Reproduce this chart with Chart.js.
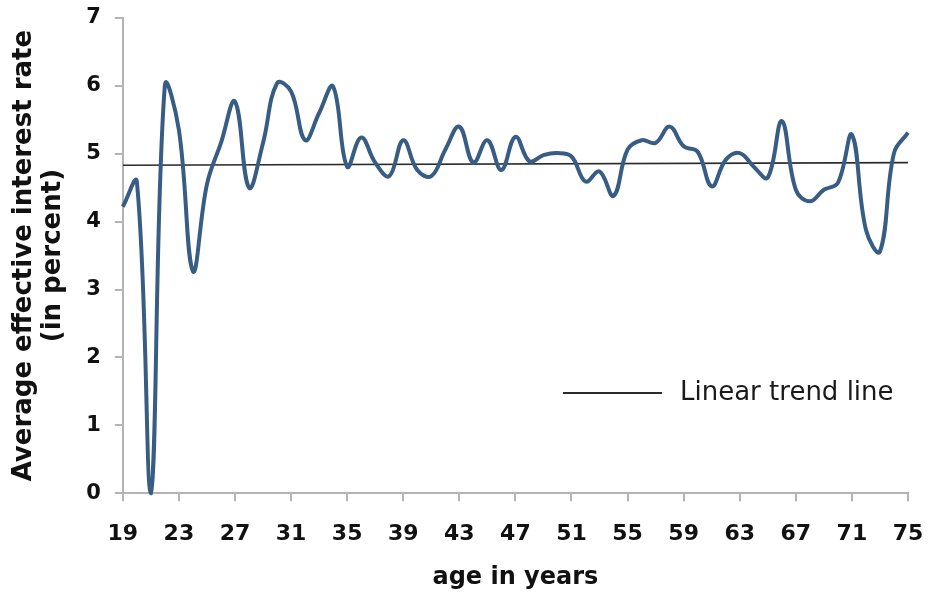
<!DOCTYPE html>
<html>
<head>
<meta charset="utf-8">
<title>Average effective interest rate by age</title>
<script src="https://cdn.jsdelivr.net/npm/chart.js@4.4.1/dist/chart.umd.min.js"></script>
<style>
    body { margin: 0; background: #fff; }
    #wrap { width: 929px; height: 595px; position: relative; }
</style>
</head>
<body>
<div id="wrap">
    <canvas id="rateChart"></canvas>
</div>
<script>
    // age in years (x) and average effective interest rate in percent (y)
    var ages = [19, 20, 21, 22, 23, 24, 25, 26, 27, 28, 29, 30, 31, 32, 33, 34, 35, 36, 37,
                38, 39, 40, 41, 42, 43, 44, 45, 46, 47, 48, 49, 50, 51, 52, 53, 54, 55, 56,
                57, 58, 59, 60, 61, 62, 63, 64, 65, 66, 67, 68, 69, 70, 71, 72, 73, 74, 75];
    var rates = [4.22, 4.59, 0.00, 6.01, 5.35, 3.27, 4.55, 5.16, 5.77, 4.50, 5.16, 6.04, 5.92,
                 5.20, 5.60, 5.99, 4.81, 5.24, 4.87, 4.67, 5.20, 4.76, 4.67, 5.06, 5.40, 4.87,
                 5.20, 4.76, 5.25, 4.89, 4.98, 5.01, 4.96, 4.59, 4.74, 4.38, 5.06, 5.20, 5.16,
                 5.40, 5.11, 5.03, 4.52, 4.91, 5.01, 4.81, 4.65, 5.48, 4.47, 4.30, 4.47, 4.57,
                 5.28, 3.88, 3.56, 5.01, 5.31];

    // linear trend line, read at its two ends
    var trendAges = [19, 75];
    var trendRates = [4.83, 4.87];

    var xTicks = [19, 23, 27, 31, 35, 39, 43, 47, 51, 55, 59, 63, 67, 71, 75];
    var yTicks = [0, 1, 2, 3, 4, 5, 6, 7];

    var ratePoints = ages.map(function (a, i) { return { x: a, y: rates[i] }; });
    var trendPoints = trendAges.map(function (a, i) { return { x: a, y: trendRates[i] }; });

    // legend sits inside the plot, lower right, only for the trend line
    var insideLegend = {
        id: 'insideLegend',
        afterDraw: function (chart) {
            var ctx = chart.ctx;
            var ds = chart.data.datasets[1];
            var x0 = chart.chartArea.right - 345;
            var y0 = chart.chartArea.top + 375;
            ctx.save();
            ctx.strokeStyle = ds.borderColor;
            ctx.lineWidth = 2;
            ctx.beginPath();
            ctx.moveTo(x0, y0);
            ctx.lineTo(x0 + 99, y0);
            ctx.stroke();
            ctx.fillStyle = '#1a1a1a';
            ctx.font = '26px "DejaVu Sans", Verdana, sans-serif';
            ctx.textBaseline = 'middle';
            ctx.fillText(ds.label, x0 + 117, y0);
            ctx.restore();
        }
    };

    var axisColor = '#b4b4b4';
    var fontFamily = '"DejaVu Sans", Verdana, sans-serif';

    new Chart(document.getElementById('rateChart').getContext('2d'), {
        type: 'line',
        data: {
            datasets: [{
                label: 'Average effective interest rate',
                data: ratePoints,
                borderColor: '#375d84',
                borderWidth: 4,
                tension: 0.4,
                pointRadius: 0,
                fill: false,
                clip: 6
            }, {
                label: 'Linear trend line',
                data: trendPoints,
                borderColor: '#2b2b2b',
                borderWidth: 1.6,
                tension: 0,
                pointRadius: 0,
                fill: false
            }]
        },
        options: {
            responsive: true,
            maintainAspectRatio: false,
            animation: false,
            layout: {
                padding: { left: 10, right: 21, top: 18, bottom: 7 }
            },
            plugins: {
                legend: { display: false },
                tooltip: { enabled: false }
            },
            scales: {
                x: {
                    type: 'linear',
                    min: 19,
                    max: 75,
                    afterBuildTicks: function (scale) {
                        scale.ticks = xTicks.map(function (v) { return { value: v }; });
                    },
                    // the last label may hang over the plot edge, as in the original
                    afterFit: function (scale) {
                        scale.paddingLeft = 0;
                        scale.paddingRight = 0;
                    },
                    grid: {
                        drawOnChartArea: false,
                        color: axisColor,
                        lineWidth: 2,
                        tickLength: 8
                    },
                    border: { color: axisColor, width: 2 },
                    ticks: {
                        color: '#111',
                        padding: 20,
                        maxRotation: 0,
                        autoSkip: false,
                        font: { family: fontFamily, size: 22, weight: 'bold' }
                    },
                    title: {
                        display: true,
                        text: 'age in years',
                        color: '#111',
                        padding: 0,
                        font: { family: fontFamily, size: 24, weight: 'bold', lineHeight: 0.85 }
                    }
                },
                y: {
                    type: 'linear',
                    min: 0,
                    max: 7,
                    afterBuildTicks: function (scale) {
                        scale.ticks = yTicks.map(function (v) { return { value: v }; });
                    },
                    afterFit: function (scale) {
                        scale.paddingTop = 0;
                        scale.paddingBottom = 0;
                    },
                    grid: {
                        drawOnChartArea: false,
                        color: axisColor,
                        lineWidth: 2,
                        tickLength: 8
                    },
                    border: { color: axisColor, width: 2 },
                    ticks: {
                        color: '#111',
                        padding: 14,
                        font: { family: fontFamily, size: 21, weight: 'bold' }
                    },
                    title: {
                        display: true,
                        text: ['Average effective interest rate', '(in percent)'],
                        color: '#111',
                        padding: { top: 0, bottom: 5 },
                        font: { family: fontFamily, size: 26, weight: 'bold', lineHeight: 1.1 }
                    }
                }
            }
        },
        plugins: [insideLegend]
    });
</script>
</body>
</html>
